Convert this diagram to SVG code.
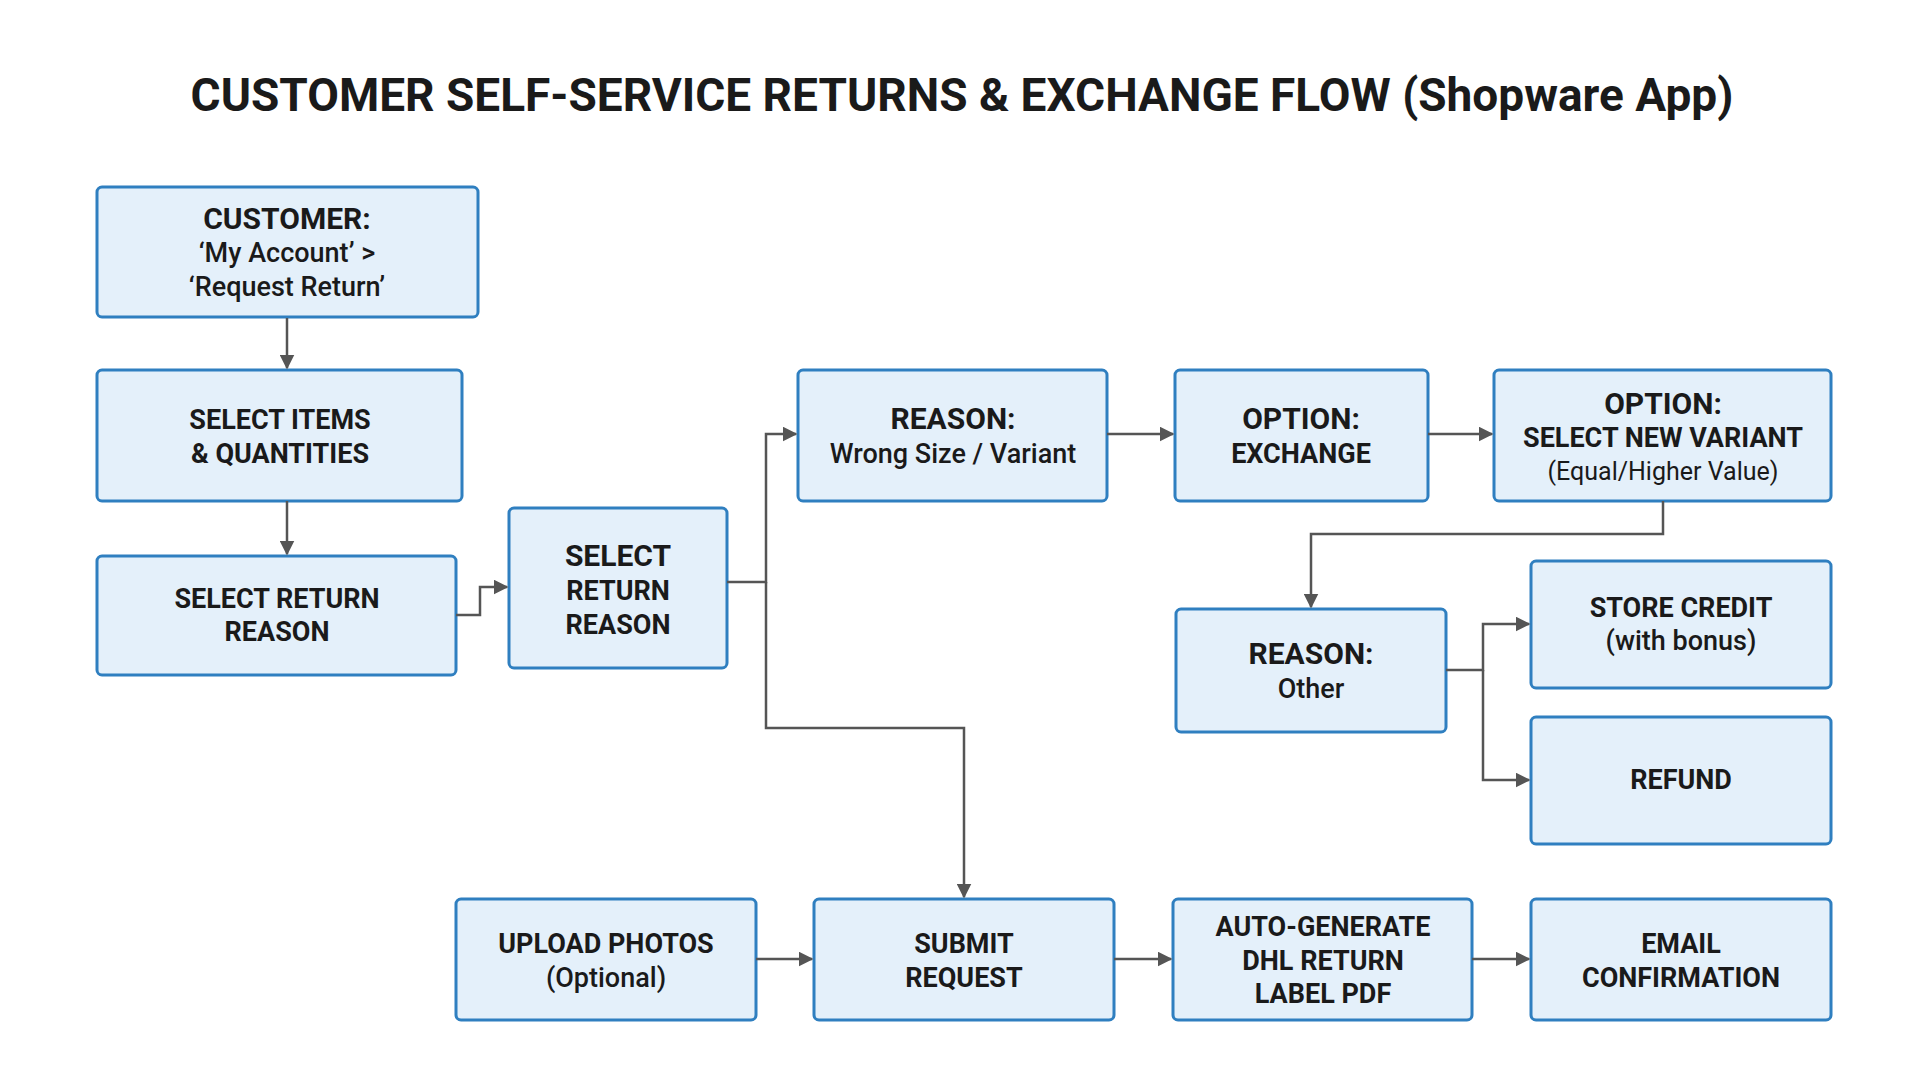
<svg xmlns="http://www.w3.org/2000/svg" width="1920" height="1080" viewBox="0 0 1920 1080">
<style>
.n{fill:#e4f0fa;stroke:#2f7fc0;stroke-width:3}
text{font-family:Roboto,"Liberation Sans",sans-serif;fill:#1a1a1a;text-anchor:middle;dominant-baseline:central}
.b{font-weight:700;font-size:27px}
.h{font-weight:700;font-size:30px}
.m{font-weight:500;font-size:27px}
.s{font-weight:400;font-size:25px}
.c{fill:none;stroke:#555;stroke-width:2.5;marker-end:url(#a)}
</style>
<defs><marker id="a" viewBox="0 0 10 10" refX="9" refY="5" markerWidth="6" markerHeight="6" orient="auto"><path d="M0,0L10,5L0,10z" fill="#555"/></marker></defs>
<rect width="1920" height="1080" fill="#fff"/>
<text x="962" y="95" style="font-weight:700;font-size:46px">CUSTOMER SELF-SERVICE RETURNS &amp; EXCHANGE FLOW (Shopware App)</text>
<g id="customer"><rect class="n" x="97" y="187" width="381" height="130" rx="5"/><text class="h" x="287" y="218">CUSTOMER:</text><text class="m" x="287" y="253">‘My Account’ &gt;</text><text class="m" x="287" y="287">‘Request Return’</text></g>
<g id="items"><rect class="n" x="97" y="370" width="365" height="131" rx="5"/><text class="b" x="280" y="420">SELECT ITEMS</text><text class="b" x="280" y="454">&amp; QUANTITIES</text></g>
<g id="selreason1"><rect class="n" x="97" y="556" width="359" height="119" rx="5"/><text class="b" x="277" y="599">SELECT RETURN</text><text class="b" x="277" y="632">REASON</text></g>
<g id="selreason2"><rect class="n" x="509" y="508" width="218" height="160" rx="5"/><text class="h" x="618" y="555">SELECT</text><text class="b" x="618" y="591">RETURN</text><text class="b" x="618" y="625">REASON</text></g>
<g id="wrongsize"><rect class="n" x="798" y="370" width="309" height="131" rx="5"/><text class="h" x="953" y="418">REASON:</text><text class="m" x="953" y="454">Wrong Size / Variant</text></g>
<g id="exchange"><rect class="n" x="1175" y="370" width="253" height="131" rx="5"/><text class="h" x="1301" y="418">OPTION:</text><text class="b" x="1301" y="454">EXCHANGE</text></g>
<g id="variant"><rect class="n" x="1494" y="370" width="337" height="131" rx="5"/><text class="h" x="1663" y="403">OPTION:</text><text class="b" x="1663" y="438">SELECT NEW VARIANT</text><text class="s" x="1663" y="471">(Equal/Higher Value)</text></g>
<g id="other"><rect class="n" x="1176" y="609" width="270" height="123" rx="5"/><text class="h" x="1311" y="653">REASON:</text><text class="m" x="1311" y="689">Other</text></g>
<g id="credit"><rect class="n" x="1531" y="561" width="300" height="127" rx="5"/><text class="b" x="1681" y="608">STORE CREDIT</text><text class="m" x="1681" y="641">(with bonus)</text></g>
<g id="refund"><rect class="n" x="1531" y="717" width="300" height="127" rx="5"/><text class="b" x="1681" y="780">REFUND</text></g>
<g id="upload"><rect class="n" x="456" y="899" width="300" height="121" rx="5"/><text class="b" x="606" y="944">UPLOAD PHOTOS</text><text class="m" x="606" y="978">(Optional)</text></g>
<g id="submit"><rect class="n" x="814" y="899" width="300" height="121" rx="5"/><text class="b" x="964" y="944">SUBMIT</text><text class="b" x="964" y="978">REQUEST</text></g>
<g id="label"><rect class="n" x="1173" y="899" width="299" height="121" rx="5"/><text class="b" x="1323" y="927">AUTO-GENERATE</text><text class="b" x="1323" y="961">DHL RETURN</text><text class="b" x="1323" y="994">LABEL PDF</text></g>
<g id="email"><rect class="n" x="1531" y="899" width="300" height="121" rx="5"/><text class="b" x="1681" y="944">EMAIL</text><text class="b" x="1681" y="978">CONFIRMATION</text></g>
<g id="connectors">
<path class="c" d="M287,318V368"/>
<path class="c" d="M287,501V554"/>
<path class="c" d="M456,615H480V587H507"/>
<path class="c" d="M727,582H766V434H796"/>
<path class="c" d="M766,582V728H964V897"/>
<path class="c" d="M1107,434H1173"/>
<path class="c" d="M1428,434H1492"/>
<path class="c" d="M1663,501V534H1311V607"/>
<path class="c" d="M1446,670H1483V624H1529"/>
<path class="c" d="M1483,670V780H1529"/>
<path class="c" d="M756,959H812"/>
<path class="c" d="M1114,959H1171"/>
<path class="c" d="M1472,959H1529"/>
</g>
</svg>
